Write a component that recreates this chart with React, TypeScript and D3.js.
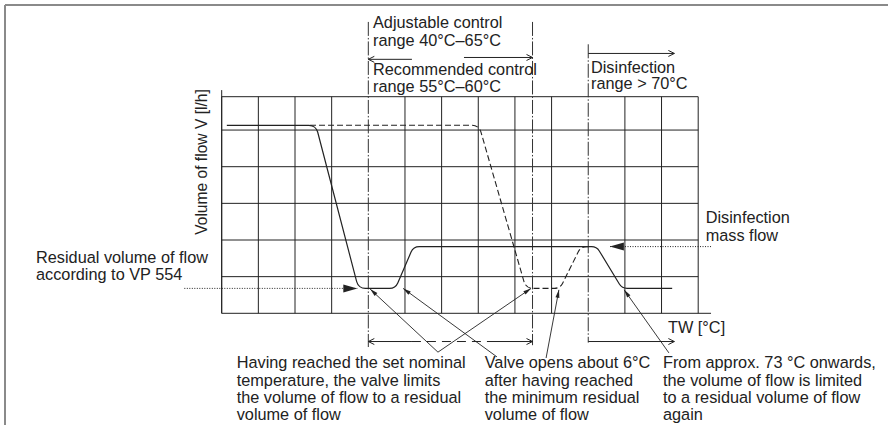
import * as d3 from 'd3';

// grid, in column / level units
const gridCols = d3.range(0, 14);
const gridRows = [0, 1, 2, 3, 4, 5, 5.91];
const dashDotCols = [4, 10];

// curve corner points [column, level]
const solidCurve = [[0.14, 5.13], [2.57, 5.13], [3.73, 0.68], [4.74, 0.68], [5.23, 1.82], [10.23, 1.82], [10.92, 0.68], [12.29, 0.68]];
const dashedCurve = [[2.41, 5.13], [7.02, 5.13], [8.3, 0.68], [9.23, 0.68], [9.8, 1.82], [10.05, 1.82]];

// dash-dot range markers
const markers = [
  { col: 4, top: 7.95, bottom: -0.92 },
  { col: 8.48, top: 7.95, bottom: -0.87 },
  { col: 10, top: 7.34, bottom: -0.8 },
];

// open range arrows: from -> to (head at "to")
const rangeArrows = [
  { from: 5.19, to: 4, level: 6.93 },
  { from: 6.61, to: 8.48, level: 6.98 },
  { from: 10, to: 12.35, level: 7.09 },
  { from: 10, to: 12.35, level: -0.77 },
];
const bottomRange = { from: 4, to: 8.48, dashFrom: 5.19, dashTo: 7.32, level: -0.77 };

// dotted pointer arrows (tip on curve)
const pointers = [
  { tip: [3.7, 0.68], tail: [-1.02, 0.68] },
  { tip: [10.59, 1.82], tail: [13.35, 1.82] },
];

// leader lines: head on curve -> end near text
const leaders = [
  { head: [4.05, 0.66], end: [5.9, -1.06] },
  { head: [8.44, 0.68], end: [5.9, -1.06] },
  { head: [4.95, 0.68], end: [7.51, -1.19] },
  { head: [9.2, 0.64], end: [8.85, -1.22] },
  { head: [10.98, 0.64], end: [12.2, -1.08] },
];

const notes = [
  { x: 236.7, lines: ['Having reached the set nominal', 'temperature, the valve limits', 'the volume of flow to a residual', 'volume of flow'] },
  { x: 484.7, lines: ['Valve opens about 6°C', 'after having reached', 'the minimum residual', 'volume of flow'] },
  { x: 663, lines: ['From approx. 73 °C onwards,', 'the volume of flow is limited', 'to a residual volume of flow', 'again'] },
];

const x = d3.scaleLinear().domain([0, 13]).range([221.7, 698.2]);
const y = d3.scaleLinear().domain([0, 6]).range([313.3, 93.4]);

const INK = '#222';
const FONT = 'Liberation Sans, Arial, sans-serif';
const FS = 16.3;

function rounded(pts: number[][], r: number) {
  const P = pts.map(([a, b]) => [x(a), y(b)]);
  const p = d3.path();
  p.moveTo(P[0][0], P[0][1]);
  for (let i = 1; i < P.length - 1; i++) p.arcTo(P[i][0], P[i][1], P[i + 1][0], P[i + 1][1], r);
  p.lineTo(P[P.length - 1][0], P[P.length - 1][1]);
  return p.toString();
}

function head(tx: number, ty: number, fx: number, fy: number, len: number, half: number) {
  const d = Math.hypot(fx - tx, fy - ty);
  const ux = (fx - tx) / d, uy = (fy - ty) / d;
  const bx = tx + ux * len, by = ty + uy * len;
  return [[bx - uy * half, by + ux * half], [tx, ty], [bx + uy * half, by - ux * half]];
}

function Text({ x: tx, y: ty, lines, step = 17.3 }: { x: number; y: number; lines: string[]; step?: number }) {
  return (
    <text x={tx} y={ty} fontSize={FS} fontFamily={FONT} fill={INK}>
      {lines.map((l, i) => (
        <tspan key={i} x={tx} y={ty + i * step}>{l}</tspan>
      ))}
    </text>
  );
}

export default function App() {
  const openHead = (tx: number, ty: number, fx: number, fy: number) =>
    'M' + head(tx, ty, fx, fy, 6, 3).map(p => p.join(',')).join('L');
  const fillHead = (tx: number, ty: number, fx: number, fy: number, len: number, half: number) =>
    head(tx, ty, fx, fy, len, half).map(p => p.join(',')).join(' ');

  return (
    <svg width={888} height={425} style={{ position: 'absolute', left: 0, top: 0, background: '#fff' }}>
      {/* frame */}
      <line x1={5} y1={5} x2={888} y2={5} stroke="#8a8a8a" strokeWidth={2} />
      <line x1={5} y1={5} x2={5} y2={425} stroke="#8a8a8a" strokeWidth={2} />

      {/* grid */}
      {gridCols.filter(c => !dashDotCols.includes(c)).map(c => (
        <line key={'v' + c} x1={x(c)} x2={x(c)} y1={y(0)} y2={y(5.91)} stroke={INK} strokeWidth={1} />
      ))}
      {gridRows.map(r => (
        <line key={'h' + r} x1={x(0)} x2={r === 0 ? x(13.35) : x(13)} y1={y(r)} y2={y(r)} stroke={INK} strokeWidth={1} />
      ))}
      <line x1={x(0)} x2={x(0)} y1={y(0)} y2={y(6.09)} stroke={INK} strokeWidth={1} />

      {/* dash-dot markers */}
      {markers.map((m, i) => (
        <line key={'m' + i} x1={x(m.col)} x2={x(m.col)} y1={y(m.top)} y2={y(m.bottom)}
          stroke="#333" strokeWidth={1} strokeDasharray="14,2,1.5,2" />
      ))}

      {/* curves */}
      <path d={rounded(dashedCurve, 9)} fill="none" stroke={INK} strokeWidth={1.1} strokeDasharray="6,3" />
      <path d={rounded(solidCurve, 9)} fill="none" stroke={INK} strokeWidth={1.2} />

      {/* range arrows */}
      {rangeArrows.map((a, i) => (
        <g key={'r' + i} fill="none" stroke={INK} strokeWidth={1}>
          <line x1={x(a.from)} x2={x(a.to)} y1={y(a.level)} y2={y(a.level)} />
          <path d={openHead(x(a.to), y(a.level), x(a.from), y(a.level))} />
        </g>
      ))}
      <g fill="none" stroke={INK} strokeWidth={1}>
        <line x1={x(bottomRange.from)} x2={x(bottomRange.dashFrom)} y1={y(bottomRange.level)} y2={y(bottomRange.level)} />
        <line x1={x(bottomRange.dashFrom)} x2={x(bottomRange.dashTo)} y1={y(bottomRange.level)} y2={y(bottomRange.level)} strokeDasharray="9,6" />
        <line x1={x(bottomRange.dashTo)} x2={x(bottomRange.to)} y1={y(bottomRange.level)} y2={y(bottomRange.level)} />
        <path d={openHead(x(bottomRange.from), y(bottomRange.level), x(bottomRange.to), y(bottomRange.level))} />
        <path d={openHead(x(bottomRange.to), y(bottomRange.level), x(bottomRange.from), y(bottomRange.level))} />
      </g>

      {/* dotted pointers */}
      {pointers.map((p, i) => {
        const tx = x(p.tip[0]), ty = y(p.tip[1]), fx = x(p.tail[0]), fy = y(p.tail[1]);
        return (
          <g key={'p' + i}>
            <line x1={fx} y1={fy} x2={tx} y2={ty} stroke={INK} strokeWidth={1} strokeDasharray="1,1.5" />
            <polygon points={fillHead(tx, ty, fx, fy, 14, 4)} fill={INK} />
          </g>
        );
      })}

      {/* leaders */}
      {leaders.map((l, i) => {
        const tx = x(l.head[0]), ty = y(l.head[1]), fx = x(l.end[0]), fy = y(l.end[1]);
        return (
          <g key={'l' + i}>
            <line x1={tx} y1={ty} x2={fx} y2={fy} stroke={INK} strokeWidth={0.9} />
            <polygon points={fillHead(tx, ty, fx, fy, 8, 2)} fill={INK} />
          </g>
        );
      })}

      {/* labels */}
      <text transform="translate(207,162) rotate(-90)" textAnchor="middle" fontSize={15.6} fontFamily={FONT} fill={INK}>
        Volume of flow V [l/h]
      </text>
      <Text x={36} y={263.3} lines={['Residual volume of flow', 'according to VP 554']} step={17} />
      <Text x={373} y={28} lines={['Adjustable control', 'range 40°C–65°C']} step={17.5} />
      <Text x={373} y={75} lines={['Recommended control', 'range 55°C–60°C']} step={16.5} />
      <Text x={591} y={72.7} lines={['Disinfection', 'range > 70°C']} step={16.5} />
      <Text x={705.7} y={223.3} lines={['Disinfection', 'mass flow']} />
      <Text x={668} y={333} lines={['TW [°C]']} />
      {notes.map((n, i) => (
        <Text key={'n' + i} x={n.x} y={368.3} lines={n.lines} />
      ))}
    </svg>
  );
}
